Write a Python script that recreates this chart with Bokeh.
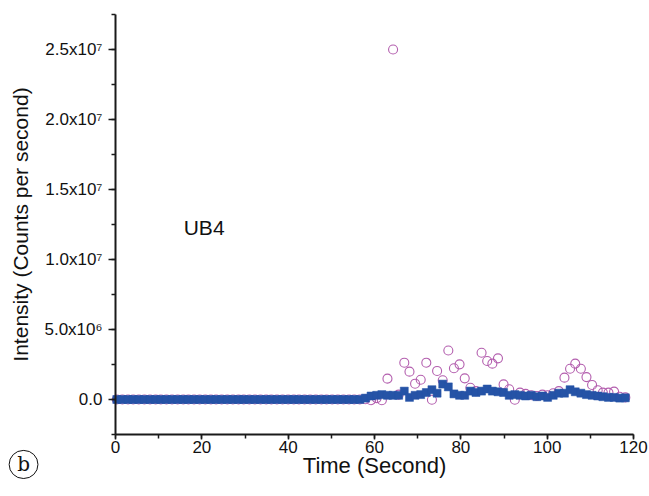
from bokeh.plotting import figure
from bokeh.models import Range1d, FixedTicker, CustomJSTickFormatter, Label
from bokeh.embed import file_html
from bokeh.resources import INLINE

# sampling times (s)
time_s = [0.3, 1.6, 2.9, 4.1, 5.4, 6.7, 8.0, 9.3, 10.5, 11.8, 13.1, 14.4, 15.7, 16.9, 18.2,
          19.5, 20.8, 22.1, 23.3, 24.6, 25.9, 27.2, 28.5, 29.7, 31.0, 32.3, 33.6, 34.9, 36.1,
          37.4, 38.7, 40.0, 41.3, 42.5, 43.8, 45.1, 46.4, 47.7, 48.9, 50.2, 51.5, 52.8, 54.1,
          55.3, 56.6, 57.9, 59.2, 60.5, 61.7, 63.0, 64.3, 65.6, 66.9, 68.1, 69.4, 70.7, 72.0,
          73.3, 74.5, 75.8, 77.1, 78.4, 79.7, 80.9, 82.2, 83.5, 84.8, 86.1, 87.3, 88.6, 89.9,
          91.2, 92.5, 93.7, 95.0, 96.3, 97.6, 98.9, 100.1, 101.4, 102.7, 104.0, 105.3, 106.5,
          107.8, 109.1, 110.4, 111.7, 112.9, 114.2, 115.5, 116.8, 118.1]

# open circles, intensity in millions of counts per second
open_mcps = [0.0, 0.0, 0.0, 0.0, 0.0, 0.0, 0.0, 0.0, 0.0, 0.0, 0.0, 0.0, 0.0, 0.0, 0.0,
             0.0, 0.0, 0.0, 0.0, 0.0, 0.0, 0.0, 0.0, 0.0, 0.0, 0.0, 0.0, 0.0, 0.0,
             0.0, 0.0, 0.0, 0.0, 0.0, 0.0, 0.0, 0.0, 0.0, 0.0, 0.0, 0.0, 0.0, 0.0,
             0.0, 0.0, 0.02, -0.05, 0.1, -0.05, 1.49, 25.0, 0.35, 2.63, 1.99, 1.13, 1.41, 2.63,
             -0.02, 2.04, 1.37, 3.5, 2.23, 2.51, 1.51, 0.84, 0.6, 3.34, 2.75, 2.56, 2.94, 1.08,
             0.73, -0.02, 0.49, 0.4, 0.3, 0.25, 0.35, 0.3, 0.45, 0.6, 1.56, 2.2, 2.56,
             2.2, 1.6, 1.04, 0.66, 0.49, 0.49, 0.56, 0.2, 0.15]

# filled squares, intensity in millions of counts per second
filled_mcps = [0.0, 0.0, 0.0, 0.0, 0.0, 0.0, 0.0, 0.0, 0.0, 0.0, 0.0, 0.0, 0.0, 0.0, 0.0,
               0.0, 0.0, 0.0, 0.0, 0.0, 0.0, 0.0, 0.0, 0.0, 0.0, 0.0, 0.0, 0.0, 0.0,
               0.0, 0.0, 0.0, 0.0, 0.0, 0.0, 0.0, 0.0, 0.0, 0.0, 0.0, 0.0, 0.0, 0.0,
               0.0, 0.0, 0.1, 0.25, 0.3, 0.35, 0.3, 0.3, 0.3, 0.6, 0.15, 0.3, 0.35, 0.5,
               0.7, 0.45, 1.1, 0.9, 0.4, 0.3, 0.3, 0.6, 0.5, 0.6, 0.75, 0.6, 0.55, 0.5,
               0.3, 0.35, 0.3, 0.25, 0.3, 0.2, 0.25, 0.15, 0.3, 0.45, 0.45, 0.7, 0.55,
               0.45, 0.35, 0.3, 0.25, 0.2, 0.15, 0.15, 0.1, 0.12]

x_bounds = (0, 120)
y_bounds = (-2500000, 27500000)
x_major_ticks = [0, 20, 40, 60, 80, 100, 120]
x_minor_ticks = [0, 10, 20, 30, 40, 50, 60, 70, 80, 90, 100, 110, 120]
y_major_ticks = [0, 5000000, 10000000, 15000000, 20000000, 25000000]
y_minor_ticks = [-2500000, 0, 2500000, 5000000, 7500000, 10000000, 12500000, 15000000,
                 17500000, 20000000, 22500000, 25000000, 27500000]

open_cps = [v * 1e6 for v in open_mcps]
filled_cps = [v * 1e6 for v in filled_mcps]

FONT = "Liberation Sans"
AXIS_COLOR = "#1a1a1a"

# the frame covers the whole canvas; axes sit at fixed data locations inside it
p = figure(width=648, height=488, output_backend="svg", toolbar_location=None,
           x_range=Range1d(-26.64, 123.47), y_range=Range1d(-6357000, 28500000),
           min_border_left=0, min_border_right=0, min_border_top=0, min_border_bottom=0)
p.outline_line_color = None
p.grid.visible = False
p.background_fill_color = "white"
p.border_fill_color = "white"

p.scatter(time_s, open_cps, marker="circle", size=9, fill_color=None,
          line_color="#b35eae", line_width=1.1)
p.scatter(time_s, filled_cps, marker="square", size=8, fill_color="#2553a6",
          line_color="#2553a6", line_width=0.5)

for ax in (p.xaxis[0], p.yaxis[0]):
    ax.axis_line_color = AXIS_COLOR
    ax.axis_line_width = 2
    ax.major_tick_line_color = AXIS_COLOR
    ax.major_tick_line_width = 1.5
    ax.minor_tick_line_color = AXIS_COLOR
    ax.minor_tick_line_width = 1.5
    ax.major_tick_in = 0
    ax.minor_tick_in = 0
    ax.major_label_text_font = FONT
    ax.major_label_text_font_size = "17px"
    ax.major_label_text_color = "#111111"
    ax.axis_label_text_font = FONT
    ax.axis_label_text_font_size = "21px"
    ax.axis_label_text_font_style = "normal"
    ax.axis_label_text_color = "#111111"

p.xaxis.fixed_location = y_bounds[0]
p.xaxis.bounds = x_bounds
p.xaxis.ticker = FixedTicker(ticks=x_major_ticks, minor_ticks=x_minor_ticks)
p.xaxis.major_tick_out = 5
p.xaxis.minor_tick_out = 4
p.xaxis.major_label_standoff = 1
p.xaxis.axis_label = "Time (Second)"
p.xaxis.axis_label_text_font_size = "22px"
p.xaxis.axis_label_standoff = -3

p.yaxis.fixed_location = x_bounds[0]
p.yaxis.bounds = y_bounds
p.yaxis.ticker = FixedTicker(ticks=y_major_ticks, minor_ticks=y_minor_ticks)
p.yaxis.major_tick_out = 7
p.yaxis.minor_tick_out = 4
p.yaxis.major_label_standoff = 6
p.yaxis.axis_label = "Intensity (Counts per second)"
p.yaxis.axis_label_standoff = 9
p.yaxis.formatter = CustomJSTickFormatter(code="""
    if (tick == 0) return "0.0";
    const e = Math.floor(Math.log10(Math.abs(tick)) + 1e-9);
    const m = tick / Math.pow(10, e);
    const sup = {"5": "\u2075", "6": "\u2076", "7": "\u2077"};
    return m.toFixed(1) + "x10" + sup[String(e)];
""")

p.add_layout(Label(x=15.8, y=12300000, text="UB4", text_font=FONT, text_font_size="21px",
                   text_baseline="middle", text_align="left", text_color="#111111"))

p.add_layout(Label(x=-21.3, y=-4640000, text="b",
                   text_font="DejaVu Serif", text_font_size="20px", text_baseline="middle",
                   text_align="center", text_color="#111111", border_line_color="#111111",
                   border_line_width=1, border_radius=15, padding=(8, 2)))

open("out.html", "w").write(file_html(p, INLINE))
